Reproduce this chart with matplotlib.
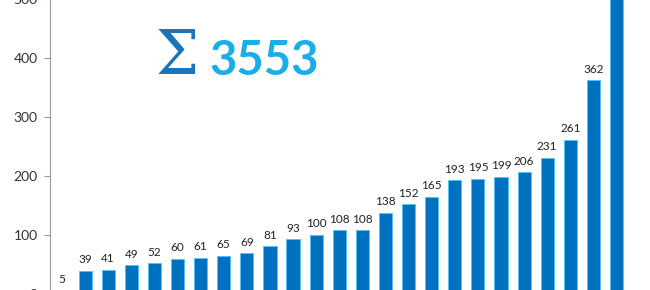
import matplotlib
matplotlib.use("Agg")
import matplotlib.pyplot as plt
import numpy as np

# values (last one is cut off; total is 3553)
values = [5, 39, 41, 49, 52, 60, 61, 65, 69, 81, 93, 100, 108, 108,
          138, 152, 165, 193, 195, 199, 206, 231, 261, 362, 520]
yticks = [0, 100, 200, 300, 400, 500]
total = sum(values)

BAR = "#0070C0"
EDGE = "#4FC3F7"
plt.rcParams["font.family"] = ["Lato", "DejaVu Sans"]

fig = plt.figure(figsize=(6.5, 2.9), dpi=100)
# axes runs slightly past the figure edges, like the cropped original
ax = fig.add_axes([50 / 650, -4 / 290, 600 / 650, 295 / 290])

x = np.arange(len(values))
ax.bar(x, values, width=0.57, color=BAR, edgecolor=EDGE, linewidth=0.6)
for xi, v in zip(x, values):
    ax.annotate(str(v), (xi, v), textcoords="offset points", xytext=(0, 4),
                ha="center", va="bottom", fontsize=8.5, color="#222222")

ax.set_ylim(0, 500)
ax.set_xlim(-0.52, 25.45)
ax.set_yticks(yticks)
ax.tick_params(axis="y", length=4, width=0.8, color="#999999",
               labelsize=10, labelcolor="#333333", pad=5)
ax.set_xticks([])
for s in ["top", "right", "bottom"]:
    ax.spines[s].set_visible(False)
ax.spines["left"].set_color("#999999")
ax.spines["left"].set_linewidth(0.8)

fig.text(156 / 650, 1 - 57 / 290, "\u03a3", family="DejaVu Serif",
         fontsize=44, color="#1B75BC", ha="left", va="center")
fig.text(209 / 650, 1 - 61 / 290, f"{total}", family=["Lato", "DejaVu Sans"],
         fontsize=34, fontweight="bold", color="#1AAEE8", ha="left", va="center")

fig.savefig("out.png", dpi=100)
